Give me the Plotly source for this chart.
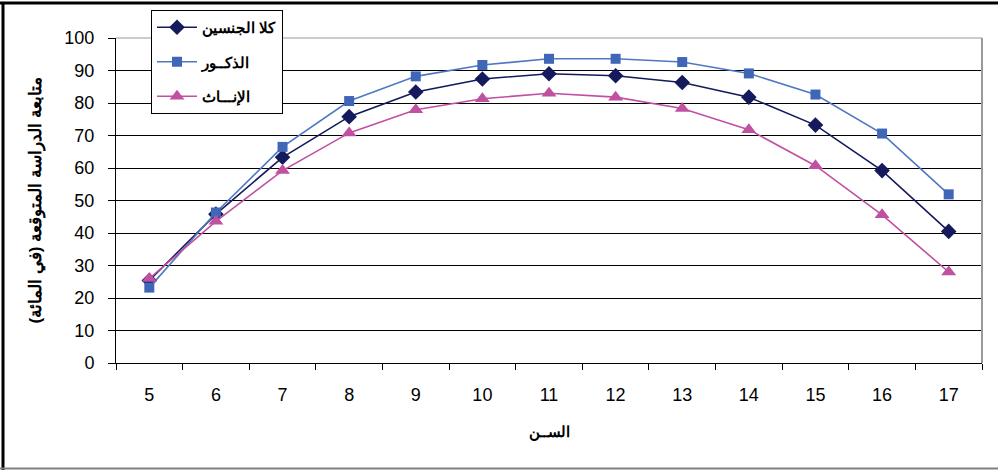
import plotly.graph_objects as go

ages = ["5", "6", "7", "8", "9", "10", "11", "12", "13", "14", "15", "16", "17"]
both = [25.4, 45.8, 63.3, 75.8, 83.4, 87.4, 89.0, 88.4, 86.3, 81.8, 73.2, 59.2, 40.5]
males = [23.2, 46.3, 66.5, 80.6, 88.2, 91.7, 93.6, 93.6, 92.6, 89.1, 82.6, 70.6, 51.9]
females = [26.0, 43.6, 59.2, 70.8, 77.9, 81.3, 83.0, 81.8, 78.3, 71.8, 60.7, 45.6, 28.0]
names = ["كلا الجنسين", "الذكــور", "الإنـــاث"]
y_ticks = [0, 10, 20, 30, 40, 50, 60, 70, 80, 90, 100]

FONT = "Liberation Sans, Arial, sans-serif"

fig = go.Figure()
fig.add_trace(go.Scatter(
    x=ages, y=both, name=names[0], mode="lines+markers", legendgroup="a",
    line=dict(color="#141a5c", width=1.6),
    marker=dict(symbol="diamond", size=12, color="#141a5c"),
))
fig.add_trace(go.Scatter(
    x=ages, y=males, name=names[1], mode="lines+markers", legendgroup="b",
    line=dict(color="#4f78c2", width=1.6),
    marker=dict(symbol="square", size=10, color="#4066b8"),
))
fig.add_trace(go.Scatter(
    x=ages, y=females, name=names[2], mode="lines+markers", legendgroup="c",
    line=dict(color="#c050a0", width=1.6),
    marker=dict(symbol="triangle-up", size=13, color="#c050a0"),
))

fig.update_layout(
    width=998, height=470,
    margin=dict(l=116, r=16, t=38, b=107, autoexpand=False),
    paper_bgcolor="white", plot_bgcolor="white",
    font=dict(family=FONT, color="black", size=18),
    showlegend=True,
    legend=dict(
        x=(151 - 116) / 866, y=(363 - 10) / 325, xanchor="left", yanchor="top",
        bgcolor="white", bordercolor="black", borderwidth=1,
        font=dict(family=FONT, size=15, color="black", weight="bold"),
        traceorder="grouped", tracegroupgap=12,
        itemwidth=40,
    ),
    xaxis=dict(
        type="category", range=[-0.5, 12.5], tickson="boundaries", ticks="outside", ticklen=6,
        tickcolor="black", showline=True, linecolor="black", linewidth=1,
        showgrid=False, zeroline=False, tickfont=dict(size=18),
        automargin=False, ticklabelstandoff=15,
        title=dict(text="الســن", font=dict(family=FONT, size=15, weight="bold"), standoff=22),
    ),
    yaxis=dict(
        range=[0, 100], tickvals=y_ticks, ticks="outside", ticklen=7,
        tickcolor="black", showline=True, linecolor="black", linewidth=1,
        showgrid=True, gridcolor="black", gridwidth=1, zeroline=False,
        tickfont=dict(size=18), automargin=False, ticklabelstandoff=10,
        title=dict(text="متابعة الدراسة المتوقعة (في المائة)",
                   font=dict(family=FONT, size=17, weight="bold"), standoff=18),
    ),
    shapes=[
        dict(type="line", xref="paper", yref="paper", x0=1, x1=1, y0=0, y1=1,
             line=dict(color="#999999", width=2)),
        dict(type="line", xref="paper", yref="paper", x0=0, x1=1, y0=1, y1=1,
             line=dict(color="#999999", width=1)),
        dict(type="line", xref="paper", yref="paper",
             x0=-116 / 866, x1=(998 - 116) / 866 + 0.01, y0=(363 - 3) / 325, y1=(363 - 3) / 325,
             line=dict(color="black", width=3)),
        dict(type="line", xref="paper", yref="paper",
             x0=-113 / 866, x1=-113 / 866, y0=(363 - 470) / 325, y1=(363 - 2) / 325,
             line=dict(color="black", width=3)),
        dict(type="line", xref="paper", yref="paper",
             x0=-116 / 866, x1=(998 - 116) / 866 + 0.01, y0=(363 - 468.5) / 325, y1=(363 - 468.5) / 325,
             line=dict(color="#808080", width=2)),
    ],
)

fig.write_html(
    "out.html",
    config={"displayModeBar": False},
    post_script="document.body.style.margin='0';document.body.style.overflow='hidden';",
)
